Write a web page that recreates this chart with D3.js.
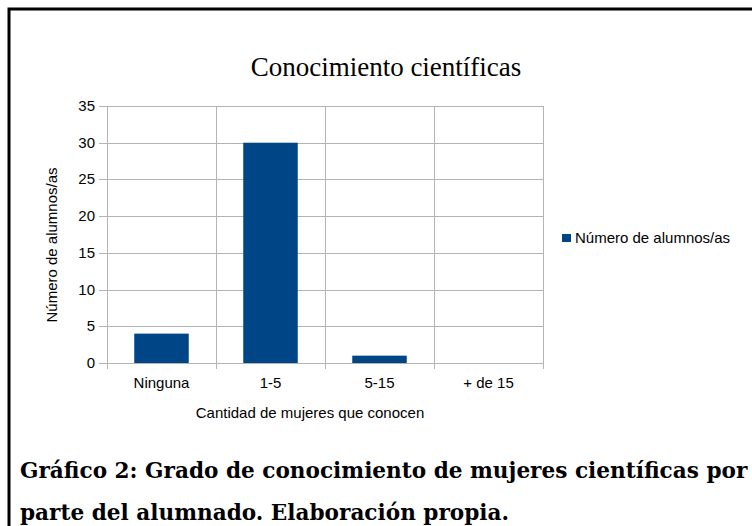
<!DOCTYPE html>
<html>
<head>
<meta charset="utf-8">
<script src="https://cdn.jsdelivr.net/npm/d3@7"></script>
<style>
body { margin: 0; background: #fff; }
svg { display: block; }
</style>
</head>
<body>
<div id="chart"></div>
<script>
// data
var categories = ["Ninguna", "1-5", "5-15", "+ de 15"];
var values = [4, 30, 1, 0];
var yTicks = [0, 5, 10, 15, 20, 25, 30, 35];
var seriesName = "Número de alumnos/as";
var chartTitle = "Conocimiento científicas";
var xTitle = "Cantidad de mujeres que conocen";
var yTitle = "Número de alumnos/as";
var captionLines = ["Gráfico 2: Grado de conocimiento de mujeres científicas por", "parte del alumnado. Elaboración propia."];

var W = 752, H = 526;
var plot = {left: 107, right: 543, top: 106, bottom: 363};
var barColor = "#004586", gridColor = "#b3b3b3";
var sans = "Liberation Sans, Arial, sans-serif";

var svg = d3.select("#chart").append("svg")
  .attr("width", W).attr("height", H);

// frame around the figure (runs off right / bottom)
svg.append("path")
  .attr("d", "M9,540 V9 H760")
  .attr("fill", "none").attr("stroke", "#000").attr("stroke-width", 3);

var x = d3.scaleBand().domain(categories).range([plot.left, plot.right]);
var y = d3.scaleLinear().domain([0, 35]).range([plot.bottom, plot.top]);

// horizontal grid + left ticks
svg.append("g").selectAll("line").data(yTicks).join("line")
  .attr("x1", plot.left - 8).attr("x2", plot.right)
  .attr("y1", d => Math.round(y(d)) + 0.5).attr("y2", d => Math.round(y(d)) + 0.5)
  .attr("stroke", gridColor).attr("stroke-width", 1);

// vertical grid at category edges + bottom ticks
var edges = categories.map(c => x(c)).concat([plot.right]);
svg.append("g").selectAll("line").data(edges).join("line")
  .attr("x1", d => Math.round(d) + 0.5).attr("x2", d => Math.round(d) + 0.5)
  .attr("y1", plot.top).attr("y2", plot.bottom + 6)
  .attr("stroke", gridColor).attr("stroke-width", 1);

// bars
svg.append("g").selectAll("rect").data(values).join("rect")
  .attr("x", (d, i) => x(categories[i]) + x.bandwidth() * 0.25)
  .attr("width", x.bandwidth() * 0.5)
  .attr("y", d => y(d))
  .attr("height", d => y(0) - y(d))
  .attr("fill", barColor);

// y tick labels
svg.append("g").selectAll("text").data(yTicks).join("text")
  .attr("x", 95).attr("y", d => y(d) + 5)
  .attr("text-anchor", "end")
  .attr("font-family", sans)
  .attr("font-size", 15).attr("fill", "#000")
  .text(d => d);

// x tick labels
svg.append("g").selectAll("text").data(categories).join("text")
  .attr("x", d => x(d) + x.bandwidth() / 2).attr("y", 388)
  .attr("text-anchor", "middle")
  .attr("font-family", sans)
  .attr("font-size", 15).attr("fill", "#000")
  .text(d => d);

// axis titles
svg.append("text")
  .attr("x", 310).attr("y", 418)
  .attr("text-anchor", "middle")
  .attr("font-family", sans)
  .attr("font-size", 15).attr("fill", "#000")
  .text(xTitle);

svg.append("text")
  .attr("transform", "translate(57,245) rotate(-90)")
  .attr("text-anchor", "middle")
  .attr("font-family", sans)
  .attr("font-size", 15).attr("fill", "#000")
  .text(yTitle);

// chart title
svg.append("text")
  .attr("x", 386).attr("y", 76)
  .attr("text-anchor", "middle")
  .attr("font-family", "Liberation Serif, serif")
  .attr("font-size", 27).attr("fill", "#000")
  .text(chartTitle);

// legend
svg.append("rect")
  .attr("x", 562).attr("y", 234).attr("width", 9).attr("height", 8)
  .attr("fill", barColor);
svg.append("text")
  .attr("x", 575).attr("y", 243)
  .attr("font-family", sans)
  .attr("font-size", 15).attr("fill", "#000")
  .text(seriesName);

// caption below the chart
svg.append("g").selectAll("text").data(captionLines).join("text")
  .attr("x", 20).attr("y", (d, i) => 478 + i * 42)
  .attr("font-family", "DejaVu Serif, serif")
  .attr("font-weight", "bold")
  .attr("font-size", 21.6).attr("fill", "#000")
  .text(d => d);
</script>
</body>
</html>
